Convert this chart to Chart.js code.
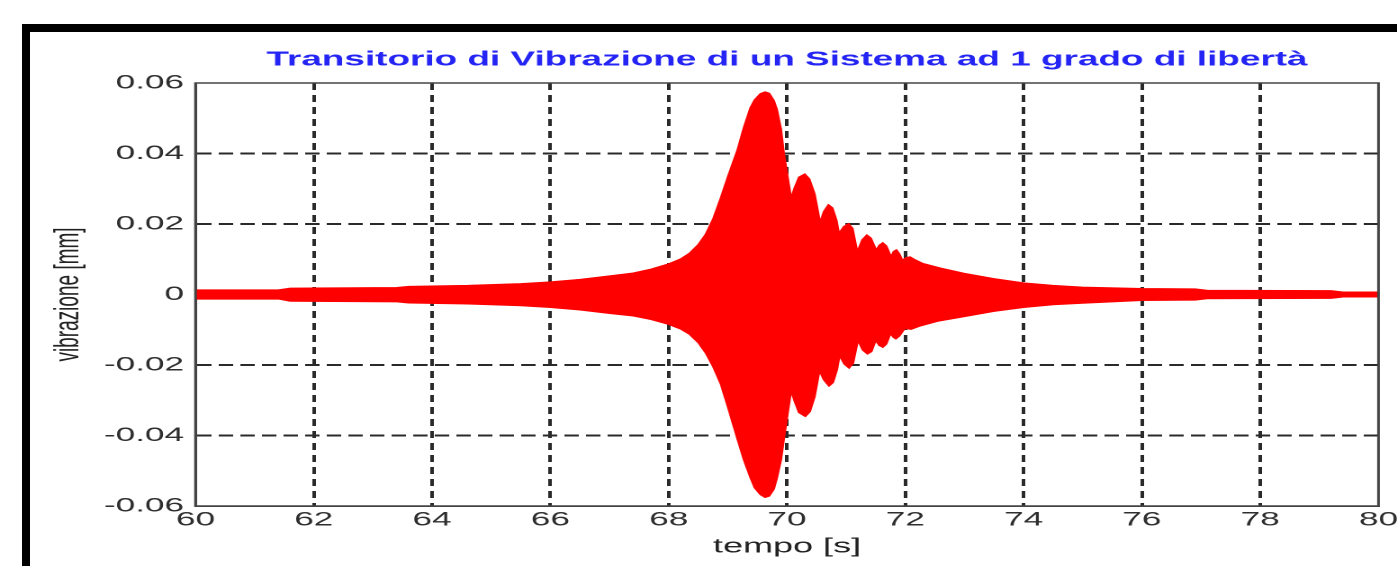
<!DOCTYPE html>
<html>
<head>
<meta charset="utf-8">
<script src="https://cdn.jsdelivr.net/npm/chart.js@4.4.0/dist/chart.umd.min.js"></script>
<style>
  html, body { margin: 0; padding: 0; background: #fff; overflow: hidden; width: 1397px; height: 566px; }
  #frame { position: absolute; left: 22px; top: 24px; right: 0; bottom: 0; border-top: 8px solid #000; border-left: 8px solid #000; z-index: 2; pointer-events: none; }
  /* the original figure is stretched sideways, so the chart is drawn narrow and widened */
  #stretch { position: absolute; left: 0; top: 0; width: 800px; height: 566px; transform: scaleX(1.8003); transform-origin: 0 0; }
</style>
</head>
<body>
<div id="frame"></div>
<div id="stretch"><canvas id="vibrationChart"></canvas></div>
<script>
let titleText = 'Transitorio di Vibrazione di un Sistema ad 1 grado di libertà';
let xTitle = 'tempo [s]';
let yTitle = 'vibrazione [mm]';

let xTicks = [60, 62, 64, 66, 68, 70, 72, 74, 76, 78, 80];
let xTickLabels = ['60', '62', '64', '66', '68', '70', '72', '74', '76', '78', '80'];
let yTicks = [-0.06, -0.04, -0.02, 0, 0.02, 0.04, 0.06];
let yTickLabels = ['-0.06', '-0.04', '-0.02', '0', '0.02', '0.04', '0.06'];

// upper envelope of the oscillation
let upperTime = [60.0, 61.4, 61.6, 63.4, 63.6, 64.6, 65.5, 66.0, 66.5, 67.0, 67.4, 67.7, 68.0, 68.2, 68.35,
  68.5, 68.62, 68.75, 68.88, 69.0, 69.16, 69.27, 69.38, 69.45, 69.55, 69.63, 69.7, 69.78, 69.83, 69.9, 69.95, 70.07,
  70.12, 70.2, 70.3, 70.38, 70.47, 70.56, 70.62, 70.7, 70.77, 70.84, 70.88, 70.96, 71.04, 71.11, 71.19,
  71.27, 71.35, 71.42, 71.51, 71.56, 71.62, 71.68, 71.76, 71.8, 71.85, 71.9, 71.95, 72.02, 72.08, 72.15,
  72.3, 72.6, 73.0, 73.5, 74.0, 74.5, 75.0, 76.0, 76.9, 77.1, 79.2, 79.4, 80.0];
let upperValue = [0.0013, 0.0013, 0.0018, 0.0020, 0.0023, 0.0026, 0.0031, 0.0036, 0.0043, 0.0053, 0.0061, 0.0072, 0.0087, 0.0101, 0.0117,
  0.0142, 0.0170, 0.0215, 0.0275, 0.0335, 0.0410, 0.0475, 0.0530, 0.0552, 0.0570, 0.0575, 0.0571, 0.0550, 0.0526, 0.0470, 0.0400, 0.0274,
  0.0300, 0.0333, 0.0342, 0.0328, 0.0285, 0.0205, 0.0235, 0.0255, 0.0246, 0.0210, 0.0174, 0.0193, 0.0201, 0.0188, 0.0122,
  0.0155, 0.0169, 0.0160, 0.0126, 0.0140, 0.0147, 0.0138, 0.0107, 0.0122, 0.0127, 0.0116, 0.0098, 0.0105, 0.0107, 0.0100,
  0.0088, 0.0075, 0.0060, 0.0045, 0.0033, 0.0026, 0.0021, 0.0017, 0.0016, 0.0012, 0.0011, 0.0007, 0.0007];

// lower envelope
let lowerTime = [60.0, 61.4, 61.6, 63.4, 63.6, 64.6, 65.5, 66.0, 66.5, 67.0, 67.4, 67.7, 68.0, 68.2, 68.35,
  68.5, 68.62, 68.75, 68.88, 69.0, 69.16, 69.27, 69.38, 69.45, 69.55, 69.63, 69.7, 69.78, 69.83, 69.9, 69.95, 70.07,
  70.12, 70.2, 70.31, 70.39, 70.47, 70.55, 70.62, 70.71, 70.78, 70.85, 70.89, 70.97, 71.05, 71.12, 71.2,
  71.28, 71.36, 71.43, 71.5, 71.56, 71.62, 71.68, 71.75, 71.8, 71.84, 71.9, 71.99, 72.1, 72.26,
  72.55, 73.0, 73.5, 74.0, 74.5, 75.0, 76.0, 76.9, 77.1, 79.2, 79.4, 80.0];
let lowerValue = [-0.0013, -0.0013, -0.0019, -0.0021, -0.0024, -0.0027, -0.0032, -0.0037, -0.0044, -0.0054, -0.0061, -0.0071, -0.0085, -0.0098, -0.0113,
  -0.0137, -0.0165, -0.0205, -0.0255, -0.0320, -0.0410, -0.0470, -0.0520, -0.0548, -0.0568, -0.0576, -0.0572, -0.0552, -0.0522, -0.0470, -0.0410, -0.0274,
  -0.0300, -0.0335, -0.0346, -0.0332, -0.0290, -0.0217, -0.0242, -0.0260, -0.0250, -0.0212, -0.0174, -0.0198, -0.0209, -0.0195, -0.0131,
  -0.0158, -0.0169, -0.0162, -0.0131, -0.0145, -0.0150, -0.0141, -0.0111, -0.0122, -0.0126, -0.0118, -0.0097, -0.0099, -0.0089,
  -0.0076, -0.0063, -0.0048, -0.0037, -0.0029, -0.0025, -0.0017, -0.0016, -0.0012, -0.0011, -0.0007, -0.0007];

let fontFamily = "'Liberation Sans', Arial, sans-serif";
let canvas = document.getElementById('vibrationChart').getContext('2d');

let boxPlugin = {
  id: 'plotBox',
  afterDraw(chart) {
    let area = chart.chartArea;
    let ctx = chart.ctx;
    ctx.save();
    ctx.strokeStyle = '#444';
    ctx.lineWidth = 1.5;
    ctx.strokeRect(area.left, area.top, area.right - area.left, area.bottom - area.top);
    ctx.restore();
  }
};

function toPoints(times, values) {
  return times.map((t, i) => ({ x: t, y: values[i] }));
}

new Chart(canvas, {
  type: 'line',
  data: {
    datasets: [{
      data: toPoints(upperTime, upperValue),
      borderColor: '#ff0000',
      backgroundColor: '#ff0000',
      borderWidth: 1,
      pointRadius: 0,
      tension: 0,
      fill: 'origin'
    }, {
      data: toPoints(lowerTime, lowerValue),
      borderColor: '#ff0000',
      backgroundColor: '#ff0000',
      borderWidth: 1,
      pointRadius: 0,
      tension: 0,
      fill: 'origin'
    }]
  },
  options: {
    responsive: true,
    maintainAspectRatio: false,
    animation: false,
    devicePixelRatio: 2,
    layout: { padding: { left: 0, right: 34.3, top: 0, bottom: 0 } },
    plugins: {
      legend: { display: false },
      tooltip: { enabled: false },
      title: {
        display: true,
        text: titleText,
        fullSize: false,
        color: '#2424f4',
        font: { family: fontFamily, size: 20.5, weight: 'bold' },
        padding: { top: 47.7, bottom: 10.7 }
      }
    },
    scales: {
      x: {
        type: 'linear',
        min: 60,
        max: 80,
        afterBuildTicks: scale => { scale.ticks = xTicks.map(v => ({ value: v })); },
        afterFit: scale => { scale.height = 60; },
        ticks: {
          color: '#2e2e2e',
          font: { family: fontFamily, size: 19.5 },
          padding: 2.5,
          maxRotation: 0,
          callback: (value, index) => xTickLabels[index]
        },
        grid: {
          drawTicks: false,
          lineWidth: 2,
          color: ctx => (ctx.tick && (ctx.tick.value === 60 || ctx.tick.value === 80)) ? 'rgba(0,0,0,0)' : '#2a2a2a'
        },
        border: { display: true, color: '#444', width: 1.5, dash: [7, 5] },
        title: {
          display: true,
          text: xTitle,
          color: '#222',
          font: { family: fontFamily, size: 20 },
          padding: { top: 0, bottom: 7 }
        }
      },
      y: {
        min: -0.06,
        max: 0.06,
        afterBuildTicks: scale => { scale.ticks = yTicks.map(v => ({ value: v })); },
        afterFit: scale => { scale.width = 108.6; },
        ticks: {
          color: '#2e2e2e',
          font: { family: fontFamily, size: 19.5 },
          padding: 6.4,
          callback: (value, index) => yTickLabels[index]
        },
        grid: {
          drawTicks: false,
          lineWidth: 2,
          color: ctx => (ctx.tick && Math.abs(ctx.tick.value) > 0.059) ? 'rgba(0,0,0,0)' : '#2a2a2a'
        },
        border: { display: true, color: '#444', width: 1.5, dash: [8, 4] },
        title: {
          display: true,
          text: yTitle,
          color: '#222',
          font: { family: fontFamily, size: 19 },
          padding: { top: 27, bottom: 0 }
        }
      }
    }
  },
  plugins: [boxPlugin]
});
</script>
</body>
</html>
